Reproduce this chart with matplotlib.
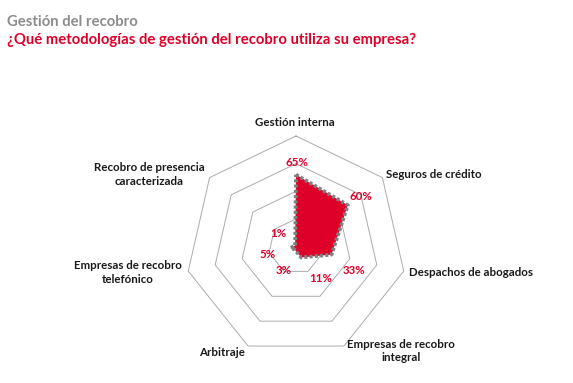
import numpy as np
import matplotlib
matplotlib.use('Agg')
import matplotlib.pyplot as plt

plt.rcParams['font.family'] = ['Lato', 'DejaVu Sans']

# datos
categorias = ['Gestión interna', 'Seguros de crédito', 'Despachos de abogados',
              'Empresas de recobro\nintegral', 'Arbitraje',
              'Empresas de recobro\ntelefónico', 'Recobro de presencia\ncaracterizada']
valores = [65, 60, 33, 11, 3, 5, 1]
anillos = [25, 50, 75, 100]

titulo = 'Gestión del recobro'
subtitulo = '¿Qué metodologías de gestión del recobro utiliza su empresa?'

ROJO = '#DE0029'
GRIS_TITULO = '#8C8C8C'

# layout (pixeles)
W, H = 573, 383
CX, CY, R = 296, 246.5, 110.5

# posiciones de etiquetas de categoria: (x, y, ha)
pos_cat = [(295, 122, 'center'), (386, 174, 'left'), (409, 273, 'left'),
           (401, 351, 'center'), (245, 352, 'right'), (128, 272.5, 'center'),
           (149, 174.5, 'center')]
# posiciones de etiquetas de valores
pos_val = [(297, 162), (361, 196), (354, 271), (321, 279), (284, 271),
           (268, 254), (278, 233)]

fig = plt.figure(figsize=(W / 100, H / 100), dpi=100)
ax = fig.add_axes([0, 0, 1, 1])
s = R / 100.0
ax.set_xlim(-CX / s, (W - CX) / s)
ax.set_ylim(-(H - CY) / s, CY / s)
ax.axis('off')

n = len(categorias)
ang = np.pi / 2 - np.arange(n) * 2 * np.pi / n
ang_c = np.append(ang, ang[0])

for r in anillos:
    ax.plot(r * np.cos(ang_c), r * np.sin(ang_c), color='#ABABAB', lw=0.7, zorder=1)

v = np.array(valores + valores[:1], dtype=float)
ax.fill(v * np.cos(ang_c), v * np.sin(ang_c), color=ROJO, zorder=2, lw=0)
ax.plot(v * np.cos(ang_c), v * np.sin(ang_c), color='#7F7F7F', lw=2.7,
        linestyle=(0, (0.8, 0.6)), dash_capstyle='butt', zorder=3)


def px(x, y):
    return x / W, 1 - y / H


for cat, (x, y, ha) in zip(categorias, pos_cat):
    ax.text(*px(x, y), cat, transform=fig.transFigure, ha=ha, va='center',
            multialignment='center', fontsize=8.3, fontweight='bold',
            color='#1A1A1A', linespacing=1.3)

for val, (x, y) in zip(valores, pos_val):
    ax.text(*px(x, y), f'{val}%', transform=fig.transFigure, ha='center',
            va='center', fontsize=8.3, fontweight='bold', color=ROJO)

fig.text(*px(7, 22), titulo, ha='left', va='center', fontsize=10.7,
         fontweight='bold', color=GRIS_TITULO)
fig.text(*px(7, 40), subtitulo, ha='left', va='center', fontsize=10.7,
         fontweight='bold', color=ROJO)

fig.savefig('out.png', dpi=100)
